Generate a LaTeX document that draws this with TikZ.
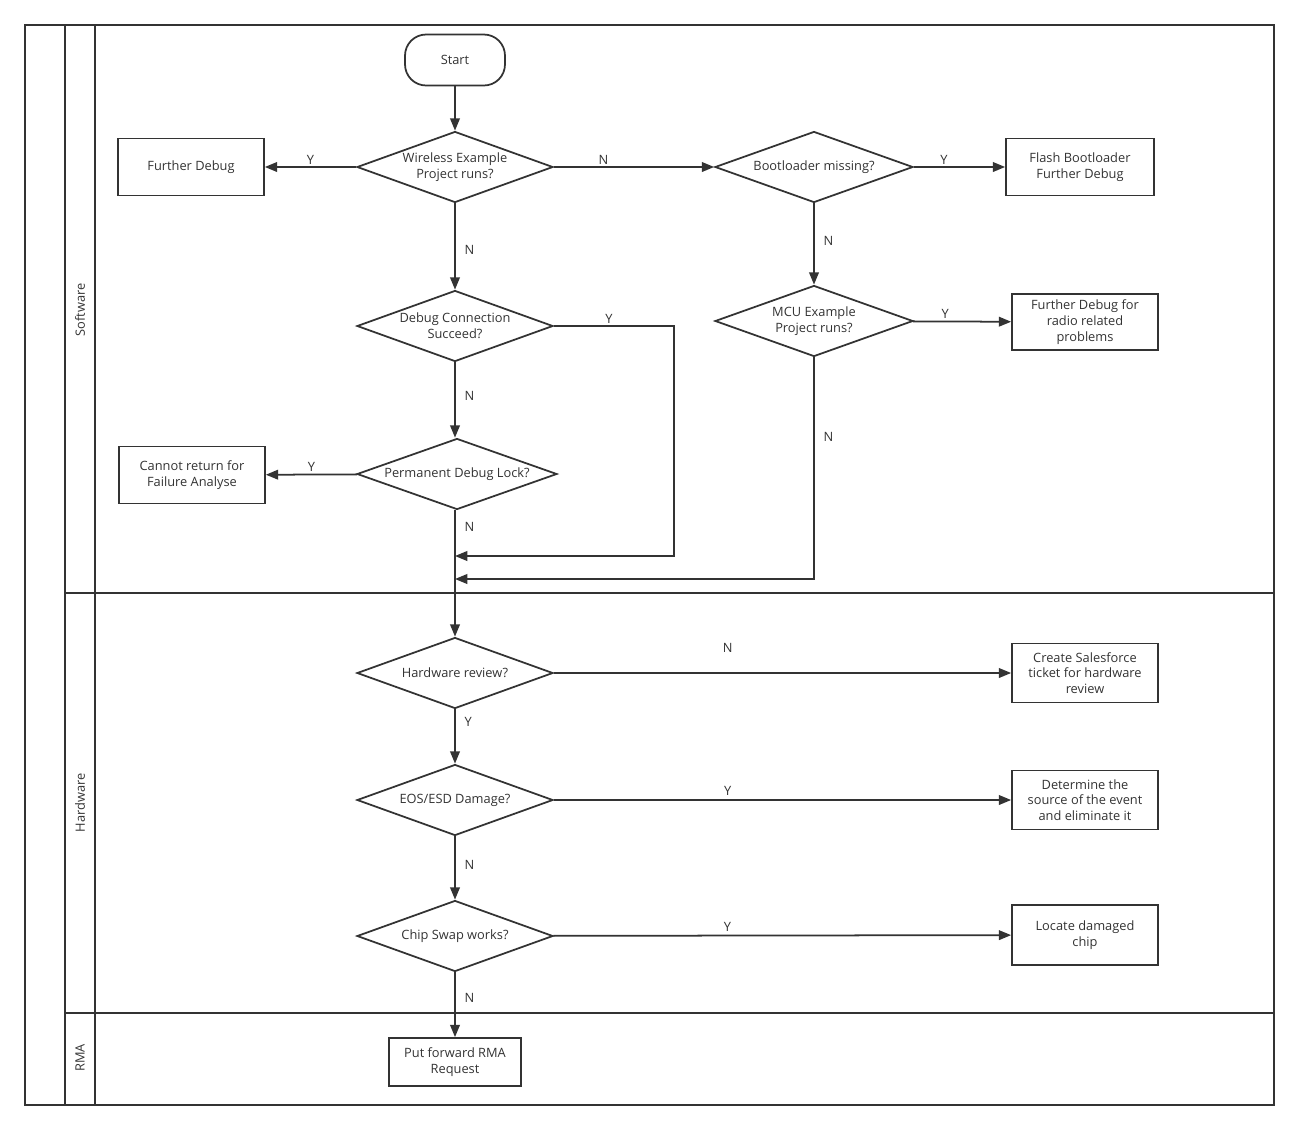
\documentclass[tikz,border=0pt]{standalone}
\usepackage{fontspec}
\setmainfont{Open Sans}
\usetikzlibrary{shapes.geometric, arrows.meta}
\definecolor{linegray}{HTML}{333333}

\begin{document}
\begin{tikzpicture}[x=0.02cm, y=-0.02cm, line width=1pt, draw=linegray,
        every node/.style={text=linegray, font=\fontsize{7.3}{9}\selectfont},
        decision/.style={draw, diamond, aspect=2.76, inner sep=0pt, minimum width=3.92cm, minimum height=1.42cm, align=center},
        process/.style={draw, rectangle, minimum width=2.92cm, minimum height=1.14cm, align=center},
        terminal/.style={draw, rectangle, rounded corners=12pt, minimum width=2cm, minimum height=1.02cm},
        lanename/.style={rotate=90},
        arr/.style={-{Triangle[length=7pt, width=5.5pt]}},
        lbl/.style={inner sep=1pt}]

    \useasboundingbox (0,0) rectangle (1299,1130);

    % swimlanes
    \draw (25,25) rectangle (1274,1105);
    \draw (65,25) -- (65,1105);
    \draw (95,25) -- (95,1105);
    \draw (65,593) -- (1274,593);
    \draw (65,1013) -- (1274,1013);
    \node[lanename] (swlane) at (80,310) {Software};
    \node[lanename] (hwlane) at (80,803) {Hardware};
    \node[lanename] (rmalane) at (80,1058) {RMA};

    % software
    \node[terminal] (start) at (455,60) {Start};
    \node[decision] (wireless) at (455,167) {Wireless Example\\Project runs?};
    \node[process] (furtherdbg) at (191,167) {Further Debug};
    \node[decision, minimum width=3.96cm] (bootld) at (814,167) {Bootloader missing?};
    \node[process, minimum width=2.96cm] (flash) at (1080,167) {Flash Bootloader\\Further Debug};
    \node[decision] (dbgconn) at (455,326) {Debug Connection\\Succeed?};
    \node[decision, minimum width=3.96cm] (mcu) at (814,321) {MCU Example\\Project runs?};
    \node[process, minimum height=1.12cm] (radio) at (1085,322) {Further Debug for\\radio related\\problems};
    \node[decision, minimum width=4cm] (permlock) at (457,474) {Permanent Debug Lock?};
    \node[process] (noreturn) at (192,475) {Cannot return for\\Failure Analyse};
    \coordinate (j1) at (455,556);
    \coordinate (j2) at (455,579);

    % hardware
    \node[decision] (hwreview) at (455,673) {Hardware review?};
    \node[process, minimum height=1.18cm] (ticket) at (1085,673) {Create Salesforce\\ticket for hardware\\review};
    \node[decision] (eos) at (455,800) {EOS/ESD Damage?};
    \node[process, minimum height=1.18cm] (source) at (1085,800) {Determine the\\source of the event\\and eliminate it};
    \node[decision] (chipswap) at (455,936) {Chip Swap works?};
    \node[process, minimum height=1.2cm] (locate) at (1085,935) {Locate damaged\\chip};

    % rma
    \node[process, minimum width=2.64cm, minimum height=0.96cm] (rma) at (455,1062) {Put forward RMA\\Request};

    \draw[arr] (start) -- (wireless);
    \draw[arr] (wireless) -- node[lbl, above] {Y} (furtherdbg);
    \draw[arr] (wireless) -- node[lbl, above, pos=0.31] {N} (bootld);
    \draw[arr] (bootld) -- node[lbl, above, pos=0.33] {Y} (flash);
    \draw[arr] (bootld) -- node[lbl, right=4pt, pos=0.46] {N} (mcu);
    \draw[arr] (mcu) -- node[lbl, above, pos=0.33] {Y} (radio);
    \draw[arr] (wireless) -- node[lbl, right=4pt, pos=0.54] {N} (dbgconn);
    \draw[arr] (dbgconn) -- node[lbl, right=4pt, pos=0.45] {N} (permlock.north -| dbgconn);
    \draw[arr] (dbgconn.east) -- node[lbl, above, pos=0.46] {Y} ++(120,0) |- (j1);
    \draw[arr] (permlock) -- node[lbl, above] {Y} (noreturn);
    \draw[arr] (mcu.south) |- node[lbl, right=4pt, pos=0.18] {N} (j2);
    \draw[arr] (permlock.south -| dbgconn) -- node[lbl, right=4pt, pos=0.13] {N} (hwreview);
    \draw[arr] (hwreview) -- node[lbl, above=10pt, pos=0.38] {N} (ticket);
    \draw[arr] (hwreview) -- node[lbl, right=4pt, pos=0.23] {Y} (eos);
    \draw[arr] (eos) -- node[lbl, above=1pt, pos=0.38] {Y} (source);
    \draw[arr] (eos) -- node[lbl, right=4pt, pos=0.45] {N} (chipswap);
    \draw[arr] (chipswap) -- node[lbl, above=1pt, pos=0.38] {Y} (locate);
    \draw[arr] (chipswap) -- node[lbl, right=4pt, pos=0.4] {N} (rma);

\end{tikzpicture}
\end{document}
